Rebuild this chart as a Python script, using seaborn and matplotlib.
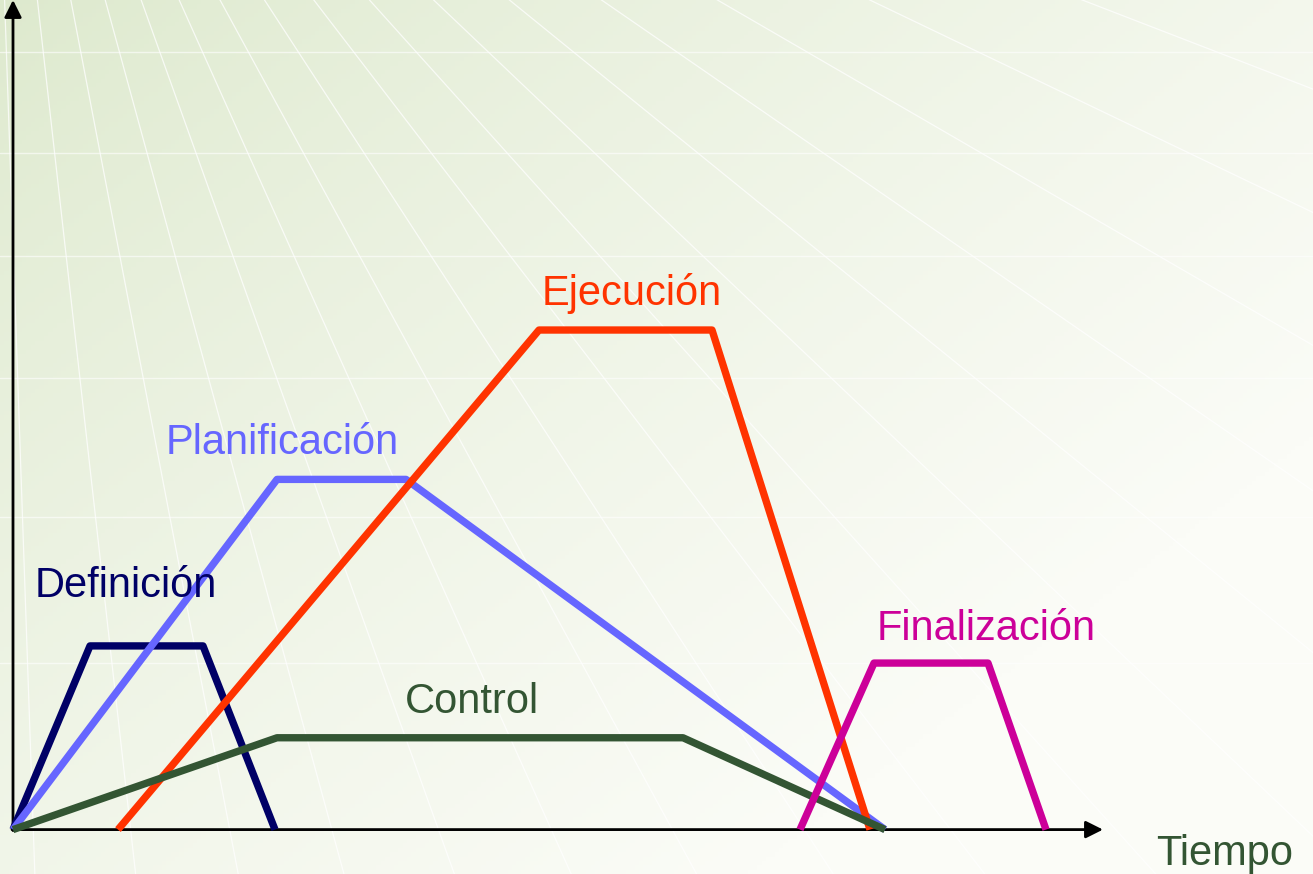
import numpy as np
import pandas as pd
import matplotlib
matplotlib.use("Agg")
import matplotlib.pyplot as plt
import seaborn as sns

# Phases of the project life cycle (time vs. effort, arbitrary units)
phases = ["Definición", "Planificación", "Ejecución", "Control", "Finalización"]
def_t = [0, 77, 190, 262]
def_v = [0, 182, 182, 0]
plan_t = [0, 264, 393, 872]
plan_v = [0, 347, 347, 0]
ejec_t = [105, 526, 699, 857]
ejec_v = [0, 495, 495, 0]
ctrl_t = [0, 264, 670, 872]
ctrl_v = [0, 91, 91, 0]
fin_t = [787, 861, 975, 1033]
fin_v = [0, 165, 165, 0]

colors = {
    "Definición": "#000066",
    "Planificación": "#6666FF",
    "Ejecución": "#FF3300",
    "Control": "#335533",
    "Finalización": "#CC0099",
}

# label anchors (centre x, baseline y) in the same units
label_x = [113, 269, 619, 459, 973]
label_y = [230, 372, 520, 116, 188]

rows = []
for name, ts, vs in zip(phases, [def_t, plan_t, ejec_t, ctrl_t, fin_t],
                        [def_v, plan_v, ejec_v, ctrl_v, fin_v]):
    for i, (t, v) in enumerate(zip(ts, vs)):
        rows.append({"fase": name, "orden": i, "tiempo": t, "valor": v})
df = pd.DataFrame(rows)

sns.set_theme(style="white")
plt.rcParams['font.family'] = ['Liberation Sans', 'DejaVu Sans']

fig = plt.figure(figsize=(13.13, 8.74), dpi=100)
ax = fig.add_axes([0, 0, 1, 1])
x0, x1, y0, y1 = -13, 1300, -44, 822
ax.set_xlim(x0, x1)
ax.set_ylim(y0, y1)
ax.axis('off')

# background: green (top-left) fading to white (bottom-right)
gx, gy = np.meshgrid(np.linspace(0, 1, 300), np.linspace(0, 1, 200))
g = np.clip(0.7 * gx + 0.6 * gy, 0, 1) ** 0.8
top = np.array([221, 233, 205]) / 255
bot = np.array([251, 252, 247]) / 255
img = top[None, None, :] * (1 - g[..., None]) + bot[None, None, :] * g[..., None]
ax.imshow(img, extent=[x0, x1, y0, y1], origin='upper', aspect='auto', zorder=0)

# faint perspective rays from above the top-left corner
fx, fy = -23, 1240
for ang in np.linspace(-88, -12, 18):
    a = np.deg2rad(ang)
    ax.plot([fx, fx + 3000 * np.cos(a)], [fy, fy + 3000 * np.sin(a)],
            color='white', lw=0.9, alpha=0.75, zorder=1)
for hy in [770, 670, 568, 447, 310, 165]:
    ax.plot([x0, x1], [hy, hy], color='white', lw=1.0, alpha=0.6, zorder=1)

# axes with arrows
ax.annotate('', xy=(0, 822), xytext=(0, -1),
            arrowprops=dict(arrowstyle='-|>', color='black', lw=2,
                            mutation_scale=26, shrinkA=0, shrinkB=0), zorder=3)
ax.annotate('', xy=(1090, 0), xytext=(-1, 0),
            arrowprops=dict(arrowstyle='-|>', color='black', lw=2,
                            mutation_scale=26, shrinkA=0, shrinkB=0), zorder=3)

sns.lineplot(data=df, x="tiempo", y="valor", hue="fase", units="fase",
             estimator=None, sort=False, palette=colors, lw=5.3,
             solid_capstyle='butt', legend=False, ax=ax, zorder=4)
ax.set_xlim(x0, x1)
ax.set_ylim(y0, y1)
ax.axis('off')

for name, lx, ly in zip(phases, label_x, label_y):
    ax.text(lx, ly, name, color=colors[name], fontsize=30,
            ha='center', va='baseline', zorder=5)
ax.text(1212, -35, "Tiempo", color="#335533", fontsize=30,
        ha='center', va='baseline', zorder=5)

fig.savefig("out.png", dpi=100)
